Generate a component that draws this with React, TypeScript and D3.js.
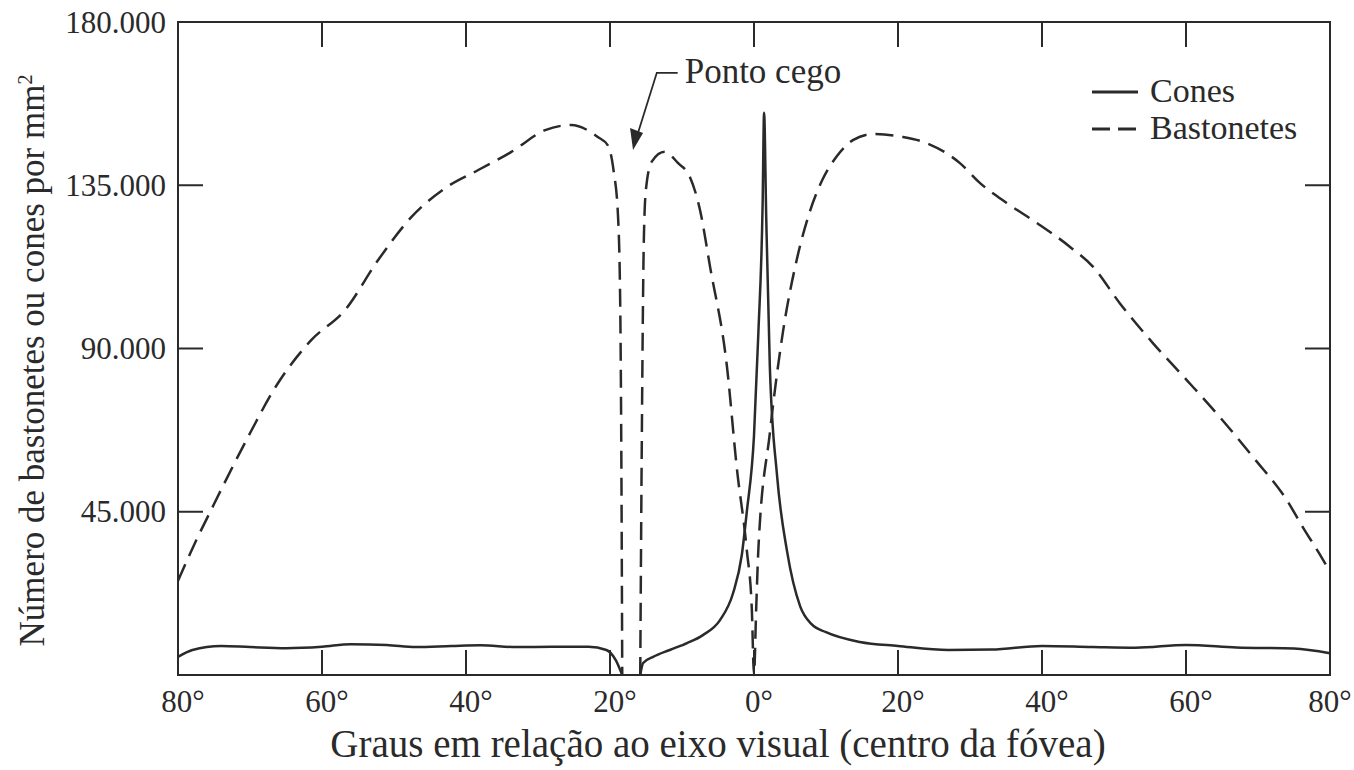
import React from 'react';
import * as d3 from 'd3';

// graus (negativo = lado esquerdo do grafico) e densidade por mm²; null = ponto cego
const coneAngles = [-80, -78, -74, -70, -65, -60, -56, -51, -47, -42, -38, -33, -28, -23, -20.5, -19.2, -18.3, -17, -15.8, -15.4, -14, -11.7, -9.3, -7.1, -4.7, -2.9, -1.7, -1, 0, 0.6, 1.2, 1.4, 1.7, 2.2, 3.2, 4.6, 6.4, 8, 10, 14.7, 20, 27, 33, 40, 47, 53, 60, 67, 75, 80];
const coneValues = [5000, 6900, 8000, 7700, 7400, 7800, 8500, 8300, 7700, 8000, 8200, 7700, 7800, 7800, 6900, 4100, 0, null, 0, 3300, 5000, 6900, 8800, 11000, 15200, 22600, 33000, 45000, 66000, 94000, 130000, 155000, 126000, 85000, 55000, 34000, 19000, 14000, 11800, 9100, 8000, 6900, 7000, 8000, 7700, 7500, 8300, 7600, 7300, 6000];

const rodAngles = [-80, -77.5, -75.4, -70.7, -66.1, -61.5, -56.8, -52.2, -47.6, -42.9, -38.3, -33.7, -29, -25.4, -21.7, -20.3, -19.5, -18.9, -18.6, -18.4, -18.3, -17, -15.8, -15.6, -15.3, -15, -14.2, -12.4, -10.5, -8.9, -7.5, -6.1, -3.75, -2.4, -1, -0.3, 0, 0.3, 0.6, 2.2, 4, 6, 7.8, 9.5, 11.5, 13.8, 16.6, 20.7, 24, 28.6, 31.4, 35.1, 39.3, 43.9, 47.1, 50.8, 55.4, 60.1, 64.7, 69.3, 74, 76.3, 78.5, 80];
const rodValues = [26000, 37000, 45500, 64000, 80500, 92300, 100600, 114400, 126200, 134200, 139200, 144200, 150200, 151600, 148300, 146000, 139000, 127000, 105000, 50000, 0, null, 0, 60000, 120000, 134000, 141500, 144200, 141000, 137300, 128200, 112500, 84900, 57300, 34400, 18000, 0, 18000, 34400, 66700, 94300, 115000, 128000, 136500, 143000, 147500, 149100, 148300, 146600, 141100, 135600, 130100, 124600, 118000, 112500, 102500, 91500, 81300, 71100, 60100, 48200, 40500, 33500, 28500];

const xTicks = [-80, -60, -40, -20, 0, 20, 40, 60, 80];
const yTicks = [45000, 90000, 135000, 180000];
const legendLabels = ['Cones', 'Bastonetes'];

const W = 1354;
const H = 770;
const ink = '#2a2a2a';
const serif = '"Liberation Serif", "DejaVu Serif", serif';
const txt = { fontFamily: serif };

const ptFormat = d3.formatLocale({ decimal: ',', thousands: '.', grouping: [3], currency: ['', ''] }).format(',.0f');

const App = () => {
  const x = d3.scaleLinear().domain([-80, 80]).range([178, 1330]);
  const y = d3.scaleLinear().domain([0, 180000]).range([675, 22]);

  const line = d3.line<[number, number | null]>()
    .defined(d => d[1] != null)
    .x(d => x(d[0]))
    .y(d => y(d[1] as number))
    .curve(d3.curveMonotoneX);

  const cones = coneAngles.map((a, i) => [a, coneValues[i]] as [number, number | null]);
  const rods = rodAngles.map((a, i) => [a, rodValues[i]] as [number, number | null]);

  const tick = 25;
  const [x0, x1] = x.range();
  const [y0, y1] = y.range();

  // anotacao do ponto cego
  const tipX = x(-16.8), tipY = y(144700);
  const elbowX = x(-13.5), elbowY = y(166000);
  const startX = x(-10.6);

  return (
    <svg width={W} height={H} style={{ position: 'absolute', left: 0, top: 0, background: '#fff' }}>
      <rect x={0} y={0} width={W} height={H} fill="#fff" />
      <g fill="none" stroke={ink} strokeWidth={2}>
        <rect x={x0} y={y1} width={x1 - x0} height={y0 - y1} />
        {xTicks.map(t => (
          <g key={'xt' + t}>
            <line x1={x(t)} x2={x(t)} y1={y0} y2={y0 - tick} />
            <line x1={x(t)} x2={x(t)} y1={y1} y2={y1 + tick} />
          </g>
        ))}
        {yTicks.map(t => (
          <g key={'yt' + t}>
            <line x1={x0} x2={x0 + tick} y1={y(t)} y2={y(t)} />
            <line x1={x1} x2={x1 - tick} y1={y(t)} y2={y(t)} />
          </g>
        ))}
      </g>

      <g fill={ink}>
        {yTicks.map(t => (
          <text key={'yl' + t} style={txt} x={x0 - 12} y={y(t)} dy="0.34em" textAnchor="end" fontSize={31}>{ptFormat(t)}</text>
        ))}
        {xTicks.map(t => (
          <text key={'xl' + t} style={txt} x={Math.min(x(t) + 5, x1)} y={712} textAnchor="middle" fontSize={31}>{Math.abs(t) + '°'}</text>
        ))}
        <text style={txt} x={718} y={757} textAnchor="middle" fontSize={39}>
          Graus em relação ao eixo visual (centro da fóvea)
        </text>
        <text style={txt} transform={`translate(44, ${(y0 + y1) / 2 + 12}) rotate(-90)`} textAnchor="middle" fontSize={35}>
          Número de bastonetes ou cones por mm<tspan dy={-12} fontSize={20}>2</tspan>
        </text>
      </g>

      <path d={line(rods) || ''} fill="none" stroke={ink} strokeWidth={2.5} strokeDasharray="18,9" />
      <path d={line(cones) || ''} fill="none" stroke={ink} strokeWidth={2.5} />

      <g>
        <polyline points={`${startX},${elbowY} ${elbowX},${elbowY} ${tipX + 4},${tipY - 14}`} fill="none" stroke={ink} strokeWidth={1.8} />
        <path d={d3.line()([[tipX, tipY], [tipX - 3, tipY - 22], [tipX + 10, tipY - 17]]) + 'Z'} fill={ink} />
        <text style={txt} x={startX + 7} y={elbowY + 10} fontSize={35} fill={ink}>Ponto cego</text>
      </g>

      <g fill={ink}>
        <line x1={1092} x2={1138} y1={92} y2={92} stroke={ink} strokeWidth={3} />
        <line x1={1092} x2={1136} y1={129} y2={129} stroke={ink} strokeWidth={3} strokeDasharray="18,8" />
        {legendLabels.map((l, i) => (
          <text key={l} style={txt} fontSize={34} x={1150} y={102 + i * 37}>{l}</text>
        ))}
      </g>
    </svg>
  );
};

export default App;
